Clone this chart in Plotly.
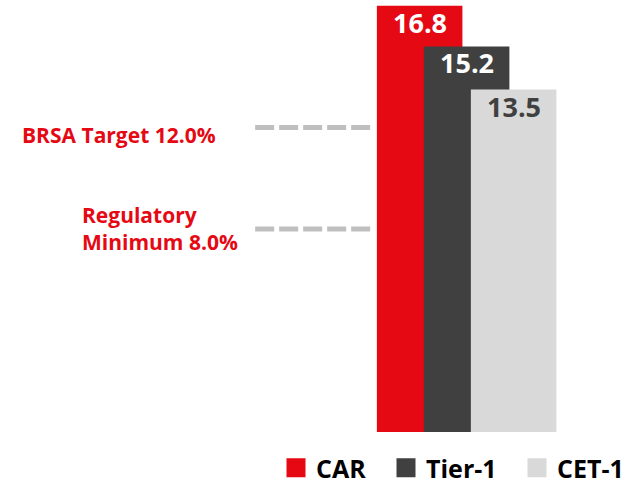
import plotly.graph_objects as go

# Capital ratios (%)
series = ["CAR", "Tier-1", "CET-1"]
values = [16.8, 15.2, 13.5]
bar_colors = ["#E50914", "#404040", "#D9D9D9"]
label_colors = ["#FFFFFF", "#FFFFFF", "#404040"]

# Regulatory thresholds (%)
threshold_labels = ["BRSA Target 12.0%", "Regulatory<br>Minimum 8.0%"]
threshold_values = [12.0, 8.0]

FONT = "Open Sans"
RED = "#E50914"

# one small legend per series, placed side by side under the bars
legend_ids = ["legend", "legend2", "legend3"]
legend_x = [0.4416, 0.6176, 0.8272]

positions = list(range(len(series)))
fig = go.Figure()

# overlapping bars, each one drawn on top of the previous
for pos, name, val, col, lg in zip(positions, series, values, bar_colors, legend_ids):
    fig.add_trace(go.Bar(
        x=[pos], y=[val], width=1.82, marker=dict(color=col, line=dict(width=0)),
        name=name, showlegend=False, hoverinfo="skip",
    ))
    # legend entry with a larger square swatch
    fig.add_trace(go.Scatter(
        x=[None], y=[None], mode="markers", name=name, legend=lg,
        marker=dict(symbol="square", size=16, color=col, line=dict(color=col, width=3)),
    ))

# value labels at the top of each bar
for pos, val, tc in zip(positions, values, label_colors):
    fig.add_annotation(
        x=pos, y=val, text=f"<b>{val:.1f}</b>", showarrow=False,
        yanchor="top", xanchor="center", yshift=4,
        font=dict(family=FONT, size=27, color=tc),
    )

# dashed threshold lines with their labels
label_x = [-4.29, -3.82]
label_shift = [-7, 1]
for lab, thr, lx, ys in zip(threshold_labels, threshold_values, label_x, label_shift):
    fig.add_trace(go.Scatter(
        x=[-3.5, -1.0], y=[thr, thr], mode="lines", showlegend=False, hoverinfo="skip",
        line=dict(color="#BFBFBF", width=5, dash="19px,5px"),
    ))
    fig.add_annotation(
        x=lx, y=thr, text=f"<b>{lab}</b>", showarrow=False,
        xanchor="right", yanchor="middle", align="left", yshift=ys,
        font=dict(family=FONT, size=21, color=RED),
    )

legend_style = dict(
    orientation="h", xref="container", yref="container",
    xanchor="left", y=0.033, yanchor="middle",
    itemsizing="trace", itemwidth=30,
    font=dict(family=FONT, size=25, color="#000000", weight="bold"),
    bgcolor="rgba(0,0,0,0)",
)

fig.update_layout(
    width=625, height=484,
    margin=dict(l=0, r=0, t=0, b=52, autoexpand=False),
    paper_bgcolor="white", plot_bgcolor="white",
    barmode="overlay",
    xaxis=dict(range=[-8.93, 4.37], visible=False, fixedrange=True),
    yaxis=dict(range=[0, 17.03], visible=False, fixedrange=True),
    showlegend=True,
    legend=dict(x=legend_x[0], **legend_style),
    legend2=dict(x=legend_x[1], **legend_style),
    legend3=dict(x=legend_x[2], **legend_style),
)

fig.write_html("out.html")
